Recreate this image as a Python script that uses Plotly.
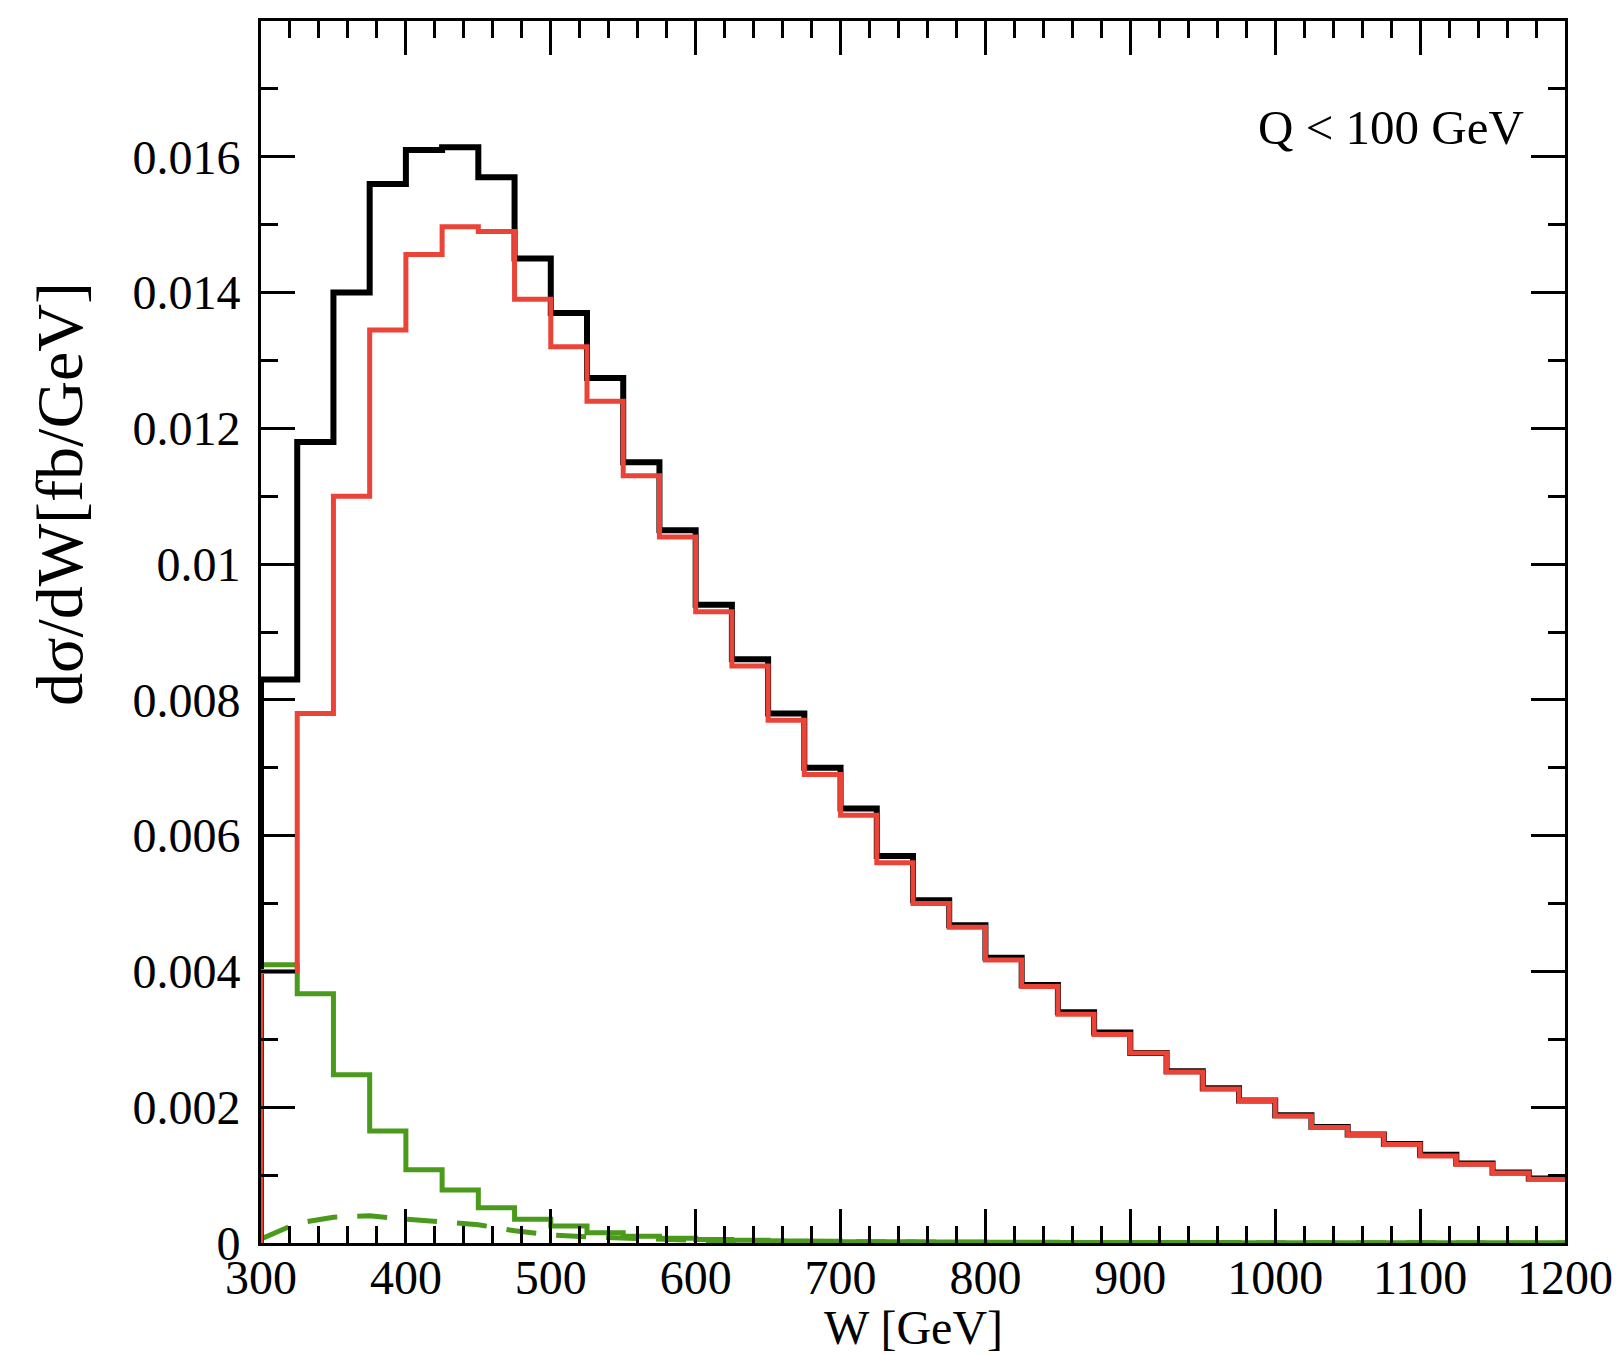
import plotly.graph_objects as go

# ---- data (fb/GeV), 25 GeV bins from 300 to 1200 GeV ----
w_edges = list(range(300, 1201, 25))

total = [0.0083, 0.0118, 0.0140, 0.0156, 0.0161, 0.01614, 0.0157, 0.0145, 0.0137, 0.01274,
         0.0115, 0.0105, 0.0094, 0.0086, 0.0078, 0.0070, 0.0064, 0.0057, 0.00505, 0.00468,
         0.0042, 0.0038, 0.0034, 0.0031, 0.0028, 0.00253, 0.00228, 0.0021, 0.00188, 0.00171,
         0.0016, 0.00146, 0.0013, 0.00117, 0.00104, 0.00095]

red_part = [0.0040, 0.0078, 0.0110, 0.01345, 0.01456, 0.01497, 0.0149, 0.0139, 0.0132, 0.0124,
            0.0113, 0.0104, 0.0093, 0.0085, 0.0077, 0.0069, 0.0063, 0.0056, 0.0050, 0.00465,
            0.00417, 0.00378, 0.00337, 0.00307, 0.0028, 0.00252, 0.00227, 0.0021, 0.00187, 0.0017,
            0.0016, 0.00145, 0.00128, 0.00116, 0.00103, 0.00094]

green_part = [0.0041, 0.00367, 0.00248, 0.00165, 0.00108, 0.00078, 0.00052, 0.00035, 0.00025, 0.00015,
              0.00010, 0.00007, 0.00005, 0.00004, 0.00003, 0.000025, 0.00002, 0.000018, 0.000015, 0.000013,
              0.000011, 0.00001, 0.000009, 0.000008, 0.000007, 0.000006, 0.000006, 0.000005, 0.000005, 0.000004,
              0.000004, 0.000003, 0.000003, 0.000003, 0.000002, 0.000002]

dashed_w = w_edges
dashed_vals = [0.00006, 0.00029, 0.00038, 0.00040, 0.00035, 0.00031, 0.00027, 0.00018, 0.00012, 0.00009,
               0.00007, 0.00005, 0.00004, 0.00003, 0.000025, 0.00002, 0.000015, 0.000012, 0.00001, 0.000009,
               0.000008, 0.000007, 0.000006, 0.000005, 0.000005, 0.000004, 0.000004, 0.000003, 0.000003, 0.000003,
               0.000002, 0.000002, 0.000002, 0.000002, 0.000001, 0.000001, 0.000001]

x_ticks = [300, 400, 500, 600, 700, 800, 900, 1000, 1100, 1200]
y_ticks = [0, 0.002, 0.004, 0.006, 0.008, 0.01, 0.012, 0.014, 0.016]
y_ticklabels = ["0", "0.002", "0.004", "0.006", "0.008", "0.01", "0.012", "0.014", "0.016"]

FONT = "Liberation Serif, Times New Roman, serif"


def step_xy(edges, vals):
    xs = [edges[0]] + list(edges)
    ys = [0] + list(vals) + [vals[-1]]
    return xs, ys


fig = go.Figure()

GREEN = "#4a9a1c"
gx, gy = step_xy(w_edges, green_part)
fig.add_trace(go.Scatter(x=gx, y=gy, mode="lines", line=dict(color=GREEN, width=5, shape="hv"),
                         showlegend=False))
fig.add_trace(go.Scatter(x=dashed_w, y=dashed_vals, mode="lines",
                         line=dict(color=GREEN, width=5, dash="30px,20px"), showlegend=False))
bx, by = step_xy(w_edges, total)
fig.add_trace(go.Scatter(x=bx, y=by, mode="lines", line=dict(color="#000000", width=6, shape="hv"),
                         showlegend=False))
rx, ry = step_xy(w_edges, red_part)
fig.add_trace(go.Scatter(x=rx, y=ry, mode="lines", line=dict(color="#ea4338", width=5, shape="hv"),
                         showlegend=False))

fig.update_layout(
    width=1615, height=1347,
    margin=dict(l=253, r=57, t=10, b=112),
    paper_bgcolor="white", plot_bgcolor="white",
    font=dict(family=FONT, size=48, color="black"),
    showlegend=False,
)

fig.update_xaxes(
    range=[300, 1200], tickvals=x_ticks, ticks="inside", ticklen=34, tickwidth=2.5, tickcolor="black",
    minor=dict(dtick=20, tick0=300, ticklen=17, tickwidth=2.5, tickcolor="black", ticks="inside"),
    showline=True, linewidth=3, linecolor="black", mirror="ticks", showgrid=False, zeroline=False,
    tickfont=dict(family=FONT, size=48), ticklabelstandoff=-10,
)
fig.update_yaxes(
    range=[0, 0.018], tickvals=y_ticks, ticktext=y_ticklabels, ticks="inside", ticklen=34, tickwidth=2.5,
    tickcolor="black",
    minor=dict(dtick=0.001, tick0=0, ticklen=17, tickwidth=2.5, tickcolor="black", ticks="inside"),
    showline=True, linewidth=3, linecolor="black", mirror="ticks", showgrid=False, zeroline=False,
    tickfont=dict(family=FONT, size=48), ticklabelstandoff=8,
)

fig.add_annotation(text="Q &lt; 100 GeV", xref="paper", yref="paper", x=0.970, y=0.9127,
                   xanchor="right", yanchor="middle", showarrow=False,
                   font=dict(family=FONT, size=49, color="black"))
fig.add_annotation(text="W [GeV]", xref="paper", yref="paper", x=0.5, y=-0.069,
                   xanchor="center", yanchor="middle", showarrow=False,
                   font=dict(family=FONT, size=48, color="black"))
fig.add_annotation(text="dσ/dW[fb/GeV]", xref="paper", yref="paper", x=-0.154, y=0.613,
                   xanchor="center", yanchor="middle", textangle=-90, showarrow=False,
                   font=dict(family=FONT, size=66, color="black"))

fig.write_html("out.html")
